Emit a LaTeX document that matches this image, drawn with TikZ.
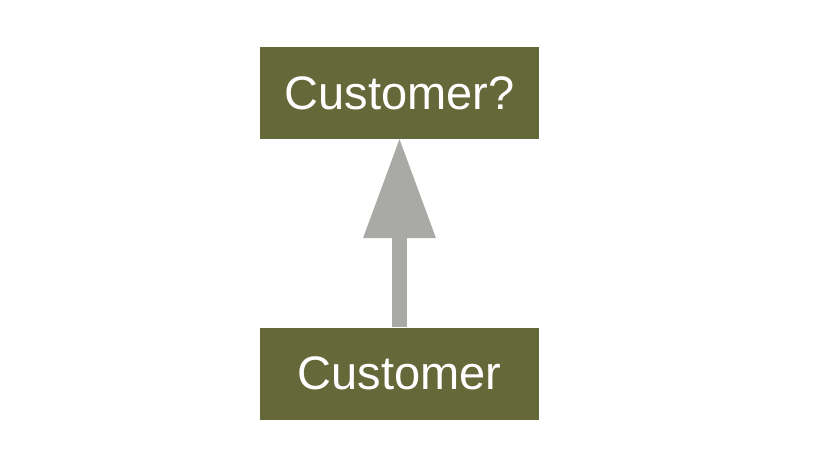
\documentclass[tikz,border=0pt]{standalone}
\usepackage{fontspec}
\setmainfont{Liberation Sans}
\usetikzlibrary{arrows.meta}
\definecolor{boxolive}{HTML}{656939}
\definecolor{arrowgrey}{HTML}{A9AAA5}
\begin{document}
\begin{tikzpicture}[x=1pt,y=1pt,
  typebox/.style={rectangle, fill=boxolive, draw=none, text=white, inner sep=0pt,
    minimum width=279pt, minimum height=92pt, font=\fontsize{47}{52}\selectfont}]
\useasboundingbox (0,0) rectangle (822,464);
\node [typebox] (opt) at (399.5,371) {Customer?};
\node [typebox] (cust) at (399.5,90.5) {Customer};
\draw [arrowgrey, line width=15pt, -{Triangle[width=73pt,length=99pt,line width=0pt]}] (cust.north) -- (opt.south);
\end{tikzpicture}
\end{document}
